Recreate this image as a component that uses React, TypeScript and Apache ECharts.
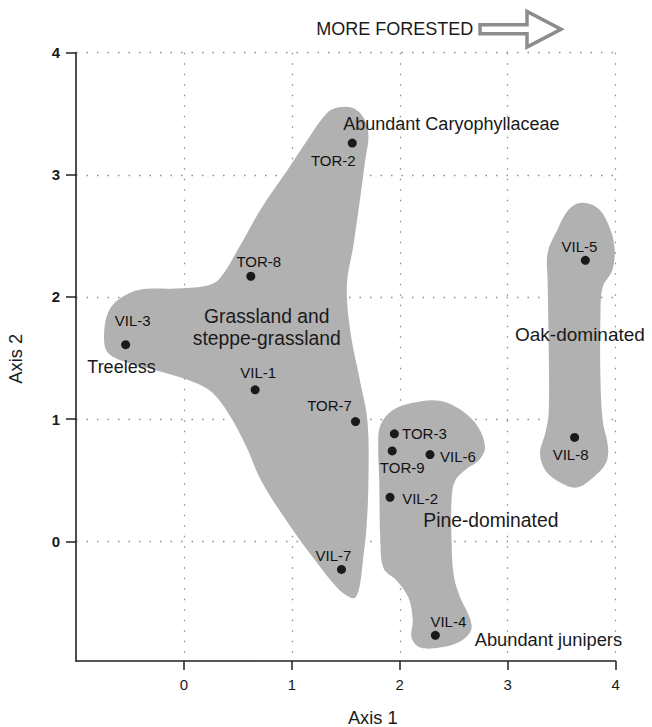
import React, { useEffect, useRef } from "react";
import * as echarts from "echarts";

// ---- data ----
const siteNames = ["VIL-3", "TOR-2", "TOR-8", "VIL-1", "TOR-7", "TOR-3", "TOR-9", "VIL-6", "VIL-2", "VIL-7", "VIL-4", "VIL-5", "VIL-8"];
const axis1Values = [-0.54, 1.56, 0.62, 0.66, 1.59, 1.95, 1.93, 2.28, 1.91, 1.46, 2.33, 3.72, 3.62];
const axis2Values = [1.61, 3.26, 2.17, 1.24, 0.98, 0.88, 0.74, 0.71, 0.36, -0.23, -0.77, 2.3, 0.85];
const xTickLabels = [0, 1, 2, 3, 4];
const yTickLabels = [0, 1, 2, 3, 4];

const grasslandOutline = [
  [1.38, 3.54], [1.56, 3.55], [1.67, 3.46], [1.71, 3.32], [1.68, 3.12], [1.63, 2.79], [1.57, 2.42],
  [1.51, 2.1], [1.54, 1.73], [1.63, 1.32], [1.7, 0.99], [1.71, 0.5], [1.69, 0.09], [1.66, -0.15],
  [1.63, -0.36], [1.59, -0.46], [1.54, -0.46], [1.42, -0.38], [1.21, -0.15], [0.98, 0.13], [0.72, 0.49],
  [0.57, 0.79], [0.41, 1.05], [0.26, 1.22], [0.1, 1.3], [-0.22, 1.39], [-0.55, 1.47], [-0.71, 1.55],
  [-0.74, 1.69], [-0.7, 1.88], [-0.59, 1.99], [-0.41, 2.06], [-0.08, 2.07], [0.2, 2.09], [0.33, 2.15],
  [0.52, 2.42], [0.72, 2.73], [0.96, 3.04], [1.17, 3.32], [1.28, 3.46],
];
const pineOutline = [
  [1.82, 0.95], [1.93, 1.07], [2.1, 1.13], [2.37, 1.15], [2.59, 1.06], [2.73, 0.93], [2.79, 0.77],
  [2.74, 0.67], [2.6, 0.58], [2.51, 0.49], [2.48, 0.34], [2.48, 0.01], [2.5, -0.28], [2.56, -0.46],
  [2.65, -0.63], [2.66, -0.73], [2.56, -0.82], [2.37, -0.87], [2.19, -0.87], [2.11, -0.79], [2.12, -0.64],
  [2.08, -0.46], [1.97, -0.32], [1.85, -0.22], [1.82, 0.01], [1.81, 0.5], [1.8, 0.79],
];
const oakOutline = [
  [3.67, 2.77], [3.56, 2.71], [3.46, 2.55], [3.37, 2.36], [3.37, 2.14], [3.38, 1.59], [3.38, 1.05],
  [3.35, 0.89], [3.3, 0.72], [3.35, 0.58], [3.49, 0.48], [3.64, 0.44], [3.79, 0.52], [3.91, 0.64],
  [3.93, 0.77], [3.88, 0.99], [3.86, 1.32], [3.86, 1.87], [3.88, 2.08], [3.97, 2.22], [3.99, 2.41],
  [3.93, 2.6], [3.83, 2.73],
];
const regionOutlines = [grasslandOutline, pineOutline, oakOutline];

// ---- label placement (pixel offsets from point centre) ----
const labelOffsets: Record<string, number[]> = {
  "VIL-3": [7, -24], "TOR-2": [-19, 17], "TOR-8": [8, -15], "VIL-1": [3, -17], "TOR-7": [-26, -16],
  "TOR-3": [30, 0], "TOR-9": [10, 17], "VIL-6": [28, 1.5], "VIL-2": [30, 1.5], "VIL-7": [-8, -14],
  "VIL-4": [13, -14], "VIL-5": [-6, -14], "VIL-8": [-4, 17],
};

const FONT = "'Liberation Sans', Arial, Helvetica, sans-serif";
const INK = "#1a1a1a";

export default function App() {
  const ref = useRef<HTMLDivElement>(null);
  useEffect(() => {
    if (!ref.current) return;
    const chart = echarts.init(ref.current, undefined, { renderer: "svg" });
    const gridStyle = { type: [1.5, 9], color: "#8c8c8c", width: 1.3 };
    const axisLine = { show: true, onZero: false, lineStyle: { color: "#222", width: 1.6 } };
    const txt = (text: string, x: number, y: number, size: number, align = "left", extra: any = {}) => ({
      type: "text", x, y, z: 100, silent: true, ...extra,
      style: { text, fill: INK, fontSize: size, fontFamily: FONT, align, verticalAlign: "middle" },
    });
    chart.setOption({
      animation: false,
      grid: { left: 76, top: 52.7, width: 539.6, height: 608.3, containLabel: false },
      xAxis: {
        type: "value", min: -1, max: 4, interval: 1,
        axisLine,
        axisTick: { show: true, length: 9, customValues: xTickLabels, lineStyle: { color: "#222", width: 1.5 } },
        axisLabel: { customValues: xTickLabels, margin: 16, fontSize: 15, color: INK, fontFamily: FONT },
        splitLine: { show: true, lineStyle: gridStyle },
      },
      yAxis: {
        type: "value", min: -0.98, max: 4,
        axisLine,
        axisTick: { show: true, length: 10, customValues: yTickLabels, lineStyle: { color: "#222", width: 1.5 } },
        axisLabel: { customValues: yTickLabels, margin: 16, fontSize: 15, color: INK, fontFamily: FONT, fontWeight: "bold" },
        splitLine: { show: true, lineStyle: gridStyle },
      },
      series: [
        {
          type: "custom",
          z: 1,
          silent: true,
          data: regionOutlines.map((_, i) => [i, 0]),
          renderItem: (params: any, api: any) => {
            const outline = regionOutlines[params.dataIndex];
            const points = outline.map((p) => api.coord(p));
            return { type: "polygon", shape: { points, smooth: 0.35 }, style: { fill: "#b1b1b1" } };
          },
        },
        {
          type: "scatter",
          z: 3,
          symbolSize: 9,
          itemStyle: { color: "#1a1a1a", opacity: 1 },
          data: siteNames.map((name, i) => ({
            name,
            value: [axis1Values[i], axis2Values[i]],
            label: { offset: labelOffsets[name] },
          })),
          label: {
            show: true, position: "inside", formatter: "{b}",
            fontSize: 15, color: "#111", fontFamily: FONT, textBorderWidth: 0, opacity: 1,
          },
        },
      ],
      graphic: [
        txt("Abundant Caryophyllaceae", 343.3, 124.3, 18),
        txt("Grassland and", 266.7, 316, 19.3, "center"),
        txt("steppe-grassland", 266.7, 338.3, 19.3, "center"),
        txt("Treeless", 87.3, 366.7, 18),
        txt("Oak-dominated", 515, 334, 19),
        txt("Pine-dominated", 423.3, 520.7, 19.3),
        txt("Abundant junipers", 474.7, 639.3, 18.3),
        txt("MORE FORESTED", 473.3, 28.8, 18, "right"),
        txt("Axis 1", 372.8, 717, 18.3, "center"),
        txt("Axis 2", 15.8, 358.8, 18.3, "center", { rotation: Math.PI / 2 }),
        {
          type: "polygon",
          silent: true,
          z: 100,
          shape: { points: [[480, 24.7], [527, 24.7], [527, 11.5], [561, 29.3], [527, 47], [527, 33.8], [480, 33.8]] },
          style: { fill: "#ffffff", stroke: "#8c8c8c", lineWidth: 3.5, lineJoin: "miter" },
        },
      ],
    });
    return () => chart.dispose();
  }, []);
  return <div ref={ref} style={{ position: "absolute", left: 0, top: 0, width: 652, height: 727 }} />;
}
